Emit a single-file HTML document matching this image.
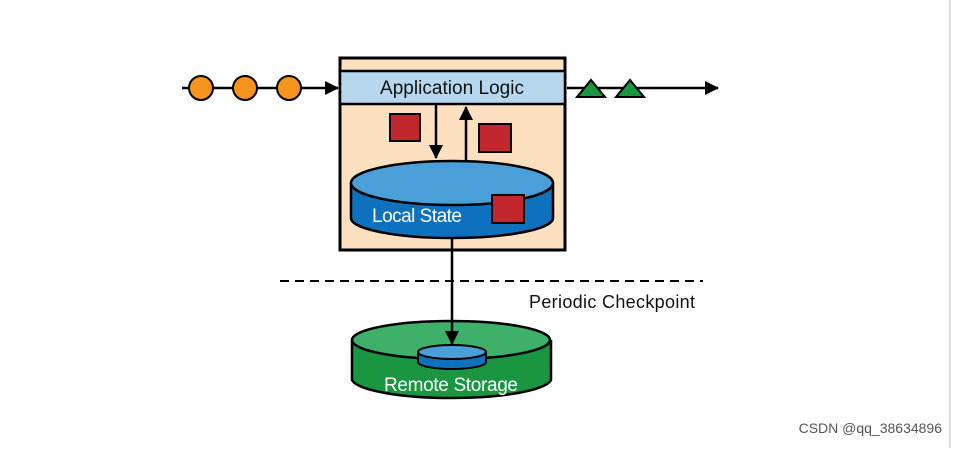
<!DOCTYPE html>
<html><head><style>body{margin:0;background:#fff}</style></head><body>
<svg width="957" height="448" viewBox="0 0 957 448" xmlns="http://www.w3.org/2000/svg" font-family="Liberation Sans, sans-serif">
<defs><marker id="b" markerWidth="14" markerHeight="14" refX="13" refY="7" orient="auto" markerUnits="userSpaceOnUse"><path d="M0,0 L14,7 L0,14 Z" fill="#000"/></marker></defs>
<line x1="950" y1="0" x2="950" y2="448" stroke="#ddd" stroke-width="2"/>
<line x1="182" y1="88" x2="338" y2="88" stroke="#000" stroke-width="2.5" marker-end="url(#b)"/>
<g fill="#f7941d" stroke="#000" stroke-width="2"><circle cx="201" cy="88" r="12"/><circle cx="245" cy="88" r="12"/><circle cx="289" cy="88" r="12"/></g>
<rect x="340" y="58" width="225" height="192" fill="#fde0c0" stroke="#000" stroke-width="3"/>
<rect x="340" y="71" width="225" height="33" fill="#b6d7ee" stroke="#000" stroke-width="2.5"/>
<text x="452" y="94" font-size="19" text-anchor="middle" fill="#111" textLength="144">Application Logic</text>
<line x1="567" y1="88" x2="718" y2="88" stroke="#000" stroke-width="2.5" marker-end="url(#b)"/>
<g fill="#1a9641" stroke="#000" stroke-width="2"><path d="M577,97 L591,80 L605,97 Z"/><path d="M616,97 L630,80 L644,97 Z"/></g>
<line x1="436" y1="105" x2="436" y2="158" stroke="#000" stroke-width="2.5" marker-end="url(#b)"/>
<line x1="466" y1="160" x2="466" y2="107" stroke="#000" stroke-width="2.5" marker-end="url(#b)"/>
<rect x="390" y="114" width="30" height="27" fill="#c1272d" stroke="#000" stroke-width="2"/>
<rect x="479" y="124" width="32" height="28" fill="#c1272d" stroke="#000" stroke-width="2"/>
<path d="M351,183 L351,218 A101,20 0 0 0 553,218 L553,183" fill="#0e71bd" stroke="#000" stroke-width="2.5"/>
<ellipse cx="452" cy="183" rx="101" ry="22" fill="#4a9fd8" stroke="#000" stroke-width="2.5"/>
<text x="417" y="222" font-size="19" text-anchor="middle" fill="#fff" textLength="90">Local State</text>
<rect x="492" y="195" width="32" height="28" fill="#c1272d" stroke="#000" stroke-width="2"/>
<line x1="280" y1="281" x2="703" y2="281" stroke="#000" stroke-width="2" stroke-dasharray="9,6"/>
<text x="612" y="308" font-size="18" text-anchor="middle" fill="#111" textLength="166">Periodic Checkpoint</text>
<path d="M352,340 L352,380 A100,20 0 0 0 551,380 L551,340" fill="#1a9641" stroke="#000" stroke-width="2.5"/>
<ellipse cx="451" cy="340" rx="99" ry="19" fill="#3fb06a" stroke="#000" stroke-width="2.5"/>
<path d="M418,352 L418,362 A34,7 0 0 0 486,362 L486,352" fill="#0e71bd" stroke="#000" stroke-width="2"/>
<ellipse cx="452" cy="352" rx="34" ry="7" fill="#4a9fd8" stroke="#000" stroke-width="2"/>
<text x="451" y="391" font-size="19" text-anchor="middle" fill="#fff" textLength="134">Remote Storage</text>
<line x1="452" y1="239" x2="452" y2="344" stroke="#000" stroke-width="2.5" marker-end="url(#b)"/>
<text x="942" y="433" font-size="14" text-anchor="end" fill="#555">CSDN @qq_38634896</text>
</svg>
</body></html>
